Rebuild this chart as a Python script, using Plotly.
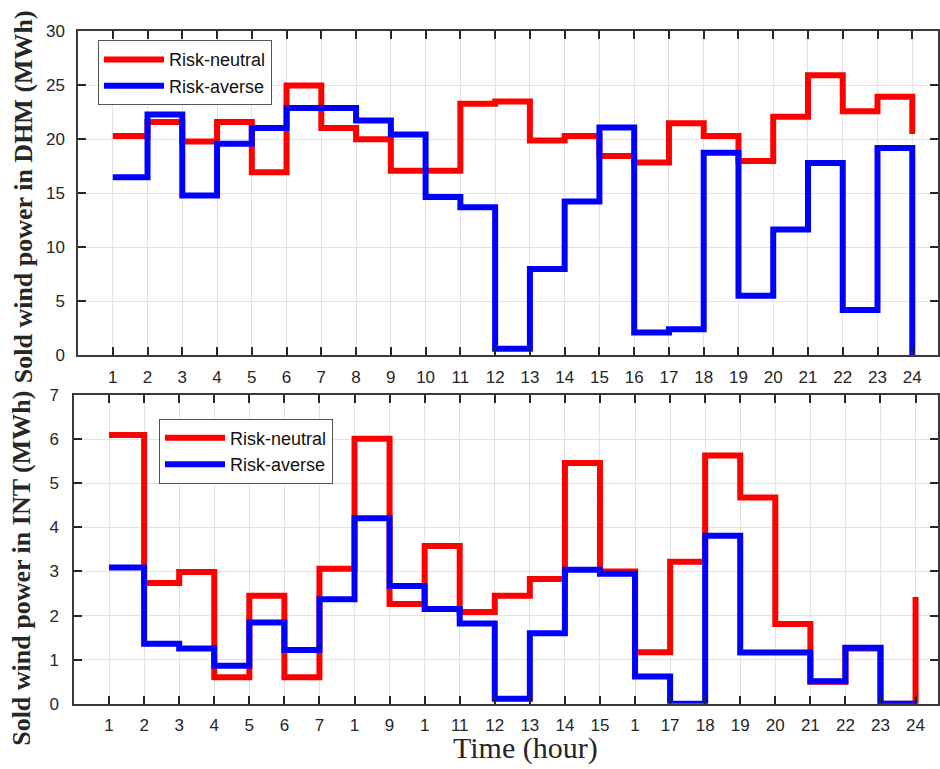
import plotly.graph_objects as go

# Hourly sold wind power, step series (value at hour h holds until h+1)
hours = list(range(1, 25))

dhm_neutral = [20.3, 21.6, 19.8, 21.6, 16.95, 25.0, 21.05, 20.0, 17.1, 17.1, 23.3, 23.5,
               19.9, 20.3, 18.45, 17.85, 21.5, 20.3, 18.0, 22.1, 25.95, 22.6, 23.95, 20.5]
dhm_averse = [16.5, 22.3, 14.8, 19.6, 21.05, 22.9, 22.9, 21.75, 20.45, 14.65, 13.7, 0.6,
              8.0, 14.25, 21.1, 2.1, 2.4, 18.75, 5.5, 11.65, 17.8, 4.2, 19.2, 0.0]

int_neutral = [6.1, 2.74, 2.99, 0.6, 2.45, 0.6, 3.06, 6.01, 2.26, 3.58, 2.08, 2.45,
               2.83, 5.46, 3.0, 1.17, 3.22, 5.63, 4.68, 1.81, 0.5, 1.25, 0.0, 2.42]
int_averse = [3.09, 1.36, 1.25, 0.86, 1.84, 1.22, 2.37, 4.21, 2.67, 2.15, 1.82, 0.11,
              1.6, 3.04, 2.95, 0.62, 0.0, 3.81, 1.16, 1.16, 0.51, 1.27, 0.0, 0.0]

top_ticktext = [str(h) for h in hours]
bottom_ticktext = ["1", "2", "3", "4", "5", "6", "7", "1", "9", "1", "11", "12",
                   "13", "14", "15", "1", "17", "18", "19", "20", "21", "22", "23", "24"]
dhm_yticks = [0, 5, 10, 15, 20, 25, 30]
int_yticks = [0, 1, 2, 3, 4, 5, 6, 7]

RED = "#ff0000"
BLUE = "#0000ff"
INK = "#262626"
W, H = 940, 769

fig = go.Figure()

def stairs(x, y, color, name, xa, ya, legend):
    fig.add_trace(go.Scatter(
        x=x, y=y, mode="lines", name=name,
        line=dict(color=color, width=6, shape="hv"),
        xaxis=xa, yaxis=ya, legend=legend,
    ))

stairs(hours, dhm_neutral, RED, "Risk-neutral", "x", "y", "legend")
stairs(hours, dhm_averse, BLUE, "Risk-averse", "x", "y", "legend")
stairs(hours, int_neutral, RED, "Risk-neutral", "x2", "y2", "legend2")
stairs(hours, int_averse, BLUE, "Risk-averse", "x2", "y2", "legend2")

def px_x(p):
    return p / W

def px_y(p):
    return 1 - p / H

tick_font = dict(family="Arial, Liberation Sans, sans-serif", size=17, color=INK)
common_axis = dict(
    showline=True, linecolor="#3a3a3a", linewidth=1.5, mirror="ticks",
    ticks="inside", ticklen=8, tickwidth=1.5, tickcolor=INK,
    showgrid=True, gridcolor="#e3e3e3", gridwidth=1,
    zeroline=False, tickfont=tick_font,
)

legend_style = dict(
    xanchor="left", yanchor="top",
    bgcolor="white", bordercolor="#555555", borderwidth=1,
    font=dict(family="Arial, Liberation Sans, sans-serif", size=18, color="#111111"),
    itemwidth=60, tracegroupgap=0,
)

fig.update_layout(
    width=W, height=H,
    margin=dict(l=0, r=0, t=0, b=0),
    paper_bgcolor="white", plot_bgcolor="white",
    xaxis=dict(common_axis, domain=[px_x(78), px_x(938)], anchor="y",
               range=[0, 24.74], tickvals=hours, ticktext=top_ticktext,
               ticklabelstandoff=6),
    yaxis=dict(common_axis, domain=[px_y(355), px_y(23)], anchor="x",
               range=[0, 30], tickvals=dhm_yticks, ticklabelstandoff=8),
    xaxis2=dict(common_axis, domain=[px_x(74), px_x(938)], anchor="y2",
                range=[0, 24.64], tickvals=hours, ticktext=bottom_ticktext,
                ticklabelstandoff=5),
    yaxis2=dict(common_axis, domain=[px_y(712.3), px_y(396)], anchor="x2",
                range=[0, 7], tickvals=int_yticks, ticklabelstandoff=10),
    legend=dict(legend_style, x=px_x(98), y=px_y(32)),
    legend2=dict(legend_style, x=px_x(159), y=px_y(420)),
    showlegend=True,
)

title_font = dict(family="Liberation Serif, Times New Roman, serif", size=26, color=INK)
fig.add_annotation(text="<b>Sold wind power in DHM (MWh)</b>", textangle=-90,
                   x=px_x(23), y=px_y(193), xref="paper", yref="paper",
                   xanchor="center", yanchor="middle",
                   showarrow=False, font=title_font)
fig.add_annotation(text="<b>Sold wind power in INT (MWh)</b>", textangle=-90,
                   x=px_x(22), y=px_y(574), xref="paper", yref="paper",
                   xanchor="center", yanchor="middle",
                   showarrow=False, font=title_font)
fig.add_annotation(text="Time (hour)", x=px_x(525), y=px_y(758),
                   xref="paper", yref="paper", showarrow=False,
                   xanchor="center", yanchor="middle",
                   font=dict(family="Liberation Serif, Times New Roman, serif",
                             size=30, color=INK))

fig.write_html("out.html")
